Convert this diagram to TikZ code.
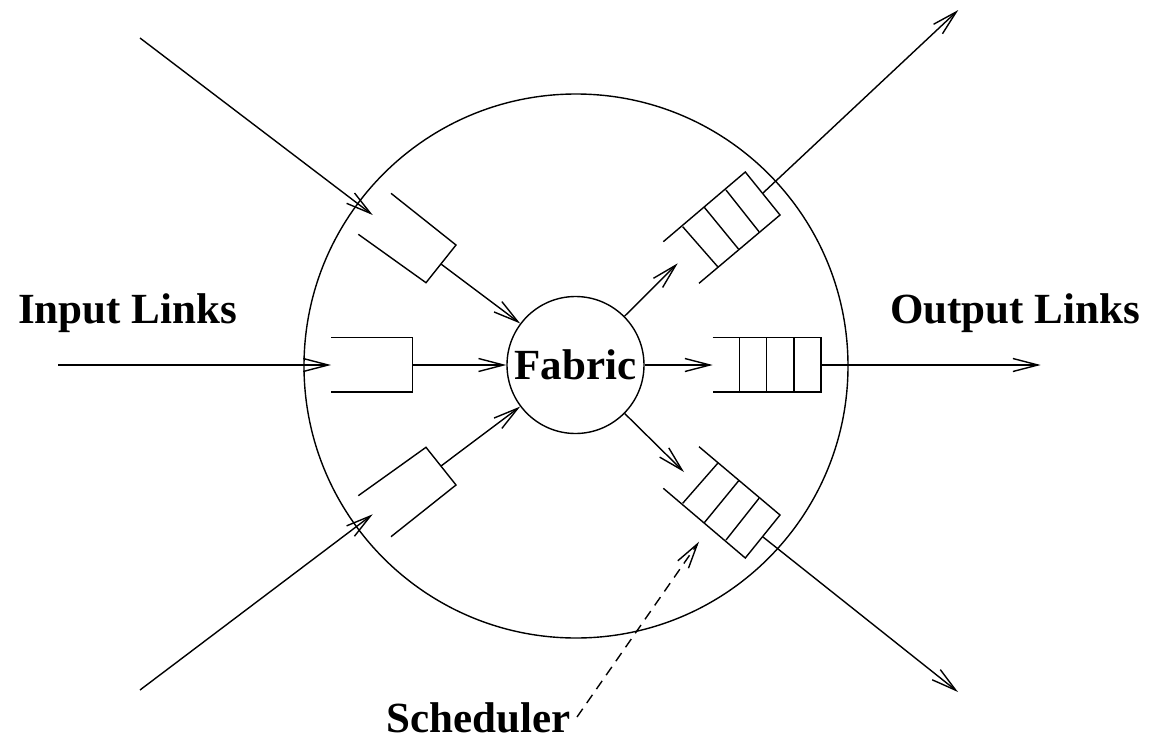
\documentclass[tikz,border=0pt]{standalone}
\usepackage{fontspec}
\setmainfont{Liberation Serif}
\usetikzlibrary{arrows.meta}
\tikzset{
  ln/.style={line width=1.4pt},
  arr/.style={ln, -{Straight Barb[length=25pt,width=13pt,line width=1.4pt]}},
  dasharr/.style={arr, dash pattern=on 10pt off 7pt},
  qbox/.style={ln, line join=miter},
  lbl/.style={font=\fontsize{43}{50}\selectfont\bfseries, inner sep=0pt}
}
\begin{document}
\begin{tikzpicture}[x=1pt,y=-1pt]
\useasboundingbox (0,0) rectangle (1149,739);

% big router circle
\draw[ln] (576,366) circle[radius=272];

% fabric
\node[ln, draw, circle, minimum size=137pt, inner sep=0pt, lbl] (fab) at (575.5,365) {Fabric};

% ---------- input side ----------
% upper-left queue
\draw[qbox] (391,193.3) -- (456,245) -- (426,282.7) -- (358.3,234.3);
\coordinate (inUL) at (372.7,215);
\coordinate (srcUL) at (140,38);
\coordinate (qUL) at (441,264);
\draw[arr] (srcUL) -- (inUL);
\draw[arr] (qUL) -- (fab);

% middle-left queue
\draw[qbox] (331,337.7) -- (412.7,337.7) -- (412.7,392) -- (331,392);
\coordinate (inML) at (331,365);
\coordinate (srcML) at (58,365);
\coordinate (qML) at (412.7,365);
\draw[arr] (srcML) -- (inML);
\draw[arr] (qML) -- (fab);

% lower-left queue
\draw[qbox] (358.3,495.7) -- (426,447.3) -- (456,485) -- (391,536.7);
\coordinate (inLL) at (372.7,514.3);
\coordinate (srcLL) at (140,690);
\coordinate (qLL) at (441,466);
\draw[arr] (srcLL) -- (inLL);
\draw[arr] (qLL) -- (fab);

% ---------- output side ----------
% upper-right queue
\draw[qbox] (663.3,241.7) -- (745.3,172) -- (780,215) -- (699,283.3);
\draw[ln] (682.7,226.7) -- (717.7,266.7);
\draw[ln] (704.3,207.3) -- (738.7,249.3);
\draw[ln] (726,190) -- (759,231.7);
\coordinate (oUR) at (677.7,263.3);
\coordinate (qUR) at (763,193);
\coordinate (dstUR) at (958.3,10);
\draw[arr] (fab) -- (oUR);
\draw[arr] (qUR) -- (dstUR);

% middle-right queue
\draw[qbox] (712.7,337.7) -- (821,337.7) -- (821,392) -- (712.7,392);
\draw[ln] (739.3,337.7) -- (739.3,392);
\draw[ln] (766.7,337.7) -- (766.7,392);
\draw[ln] (794,337.7) -- (794,392);
\coordinate (oMR) at (712.7,365);
\coordinate (qMR) at (821,365);
\coordinate (dstMR) at (1040.7,365);
\draw[arr] (fab) -- (oMR);
\draw[arr] (qMR) -- (dstMR);

% lower-right queue
\draw[qbox] (663.3,488.3) -- (745.3,558) -- (780,515) -- (699,446.7);
\draw[ln] (682.7,503.3) -- (717.7,463.3);
\draw[ln] (704.3,522.7) -- (738.7,480.7);
\draw[ln] (726,540) -- (759,498.3);
\coordinate (oLR) at (684,472);
\coordinate (qLR) at (763,537);
\coordinate (dstLR) at (958,692);
\draw[arr] (fab) -- (oLR);
\draw[arr] (qLR) -- (dstLR);

% ---------- labels ----------
\node[lbl, anchor=base west] (inlab) at (18,323) {Input Links};
\node[lbl, anchor=base west] (outlab) at (890,323) {Output Links};
\node[lbl, anchor=base east, text depth=0pt] (sched) at (570.5,732) {Scheduler};
\coordinate (schedTip) at (699,541.7);
\coordinate (schedStart) at (577,717);
\draw[dasharr] (schedStart) -- (schedTip);
\end{tikzpicture}
\end{document}
